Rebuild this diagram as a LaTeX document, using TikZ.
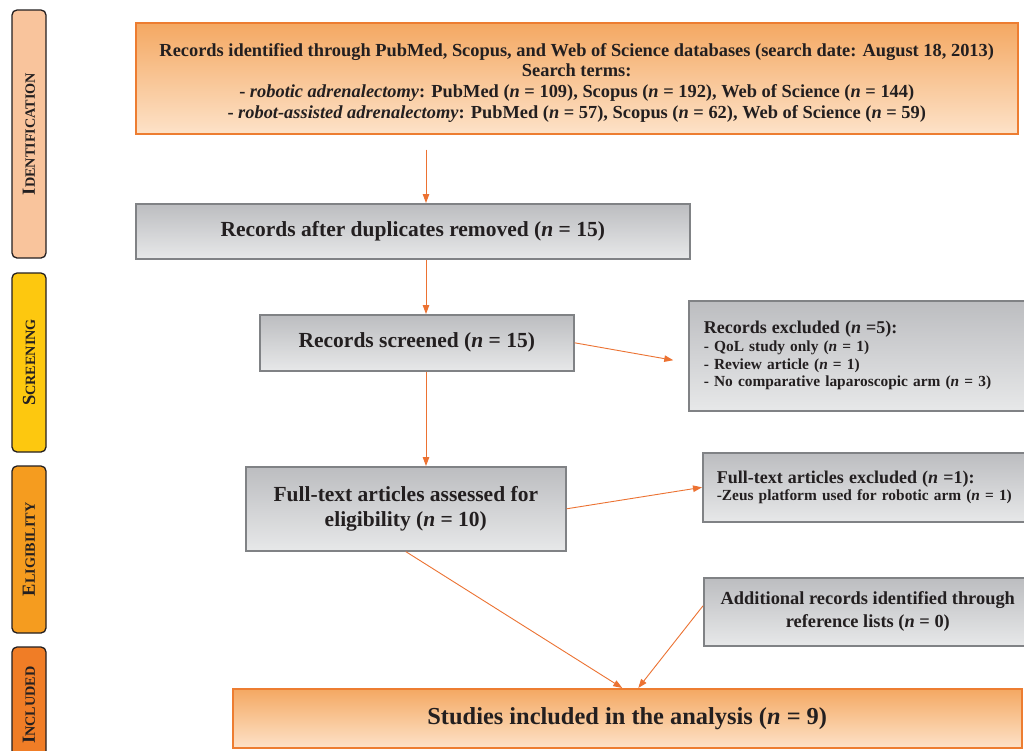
\documentclass[tikz,border=0pt]{standalone}
\usepackage{fontspec}
\setmainfont{Liberation Serif}
\usetikzlibrary{arrows.meta}
\definecolor{orgtop}{HTML}{F4A862}
\definecolor{orgbot}{HTML}{FDE2C8}
\definecolor{orgline}{HTML}{ED7D31}
\definecolor{graytop}{HTML}{BCBDC0}
\definecolor{graybot}{HTML}{E7E8E9}
\definecolor{boxgray}{HTML}{808285}
\definecolor{arrorg}{HTML}{EC7232}
\definecolor{idc}{HTML}{F9C49C}
\definecolor{scrc}{HTML}{FDC80F}
\definecolor{elc}{HTML}{F59C1F}
\definecolor{inc}{HTML}{F07D26}
\definecolor{phaseline}{HTML}{231F20}
\definecolor{txt}{HTML}{231F20}
\newcommand\phasetxt[2]{{\fontsize{18.5}{18.5}\selectfont #1}{\fontsize{14.2}{14.2}\selectfont #2}}
\begin{document}
\begin{tikzpicture}[x=1pt,y=-1pt,
  graybox/.style={draw=boxgray, line width=1.6pt, top color=graytop, bottom color=graybot,
    inner sep=0pt, anchor=north west, align=center, text=txt,
    font=\bfseries\fontsize{21.5}{25}\selectfont},
  orgbox/.style={draw=orgline, line width=1.5pt, top color=orgtop, bottom color=orgbot,
    inner sep=0pt, anchor=north west, align=center, text=txt},
  phase/.style={draw=phaseline, line width=1.3pt, rounded corners=5pt, rotate=90,
    minimum height=34pt, inner sep=0pt, text=txt, font=\bfseries},
  arr/.style={draw=arrorg, line width=0.9pt, -{Triangle[length=9pt,width=6.5pt]}}
]
\useasboundingbox (0,0) rectangle (1024,750);
\clip (0,0) rectangle (1024,750);
\fill[white] (0,0) rectangle (1024,750);

% phase labels
\node[phase, fill=idc, minimum width=248pt] (pid) at (29,134) {\phasetxt{I}{DENTIFICATION}};
\node[phase, fill=scrc, minimum width=179pt] (pscr) at (29,362.5) {\phasetxt{S}{CREENING}};
\node[phase, fill=elc, minimum width=167pt] (pel) at (29,549.5) {\phasetxt{E}{LIGIBILITY}};
\node[phase, fill=inc, minimum width=116pt] (pinc) at (29,705) {\phasetxt{I}{NCLUDED}};

% boxes
\node[orgbox, minimum width=882pt, minimum height=111pt,
  font=\bfseries\fontsize{18.4}{20.7}\selectfont] (top) at (135,22)
  {\rule{0pt}{22pt}Records identified through PubMed, Scopus, and Web of Science databases (search date: August 18, 2013)\\
   Search terms:\\
   - \textit{robotic adrenalectomy}: PubMed (\textit{n} = 109), Scopus (\textit{n} = 192), Web of Science (\textit{n} = 144)\\
   - \textit{robot-assisted adrenalectomy}: PubMed (\textit{n} = 57), Scopus (\textit{n} = 62), Web of Science (\textit{n} = 59)};

\node[graybox, minimum width=554pt, minimum height=55pt] (dup) at (135,203)
  {Records after duplicates removed (\textit{n} = 15)};
\node[graybox, minimum width=314pt, minimum height=56pt] (scr) at (259,314)
  {Records screened (\textit{n} = 15)};
\node[graybox, minimum width=320pt, minimum height=84pt] (ft) at (245,466)
  {Full-text articles assessed for\\ eligibility (\textit{n} = 10)};

\node[graybox, minimum width=360pt, minimum height=110pt, text width=330pt,
  inner xsep=15pt, align=left, font=\bfseries\fontsize{15.4}{17.7}\selectfont] (excl) at (688,300)
  {{\fontsize{18}{18}\selectfont Records excluded (\textit{n} =5):}\\
   - QoL study only (\textit{n} = 1)\\
   - Review article (\textit{n} = 1)\\
   - No comparative laparoscopic arm (\textit{n} = 3)};

\node[graybox, minimum width=360pt, minimum height=69pt, text width=332pt,
  inner xsep=14pt, align=left, font=\bfseries\fontsize{15.4}{17.5}\selectfont] (ftex) at (702,452)
  {{\fontsize{18}{18}\selectfont Full-text articles excluded (\textit{n} =1):}\\
   -Zeus platform used for robotic arm (\textit{n} = 1)};

\node[graybox, minimum width=328pt, minimum height=68pt,
  font=\bfseries\fontsize{18.4}{23}\selectfont] (add) at (703,577)
  {Additional records identified through\\ reference lists (\textit{n} = 0)};

\node[orgbox, minimum width=789pt, minimum height=59pt,
  font=\bfseries\fontsize{24.4}{28}\selectfont] (stud) at (232,688)
  {Studies included in the analysis (\textit{n} = 9)};

% connectors
\coordinate (ax) at (426,0);
\draw[arr, shorten <=15pt] (top.south -| ax) -- (dup.north -| ax);
\draw[arr] (dup.south -| ax) -- (scr.north -| ax);
\draw[arr] (scr.south -| ax) -- (ft.north -| ax);
\draw[arr, shorten >=15pt] (scr.east) -- ([yshift=-7pt]excl.west);
\draw[arr] (ft.east) -- (ftex.west);
\draw[arr] (ft.south) -- ([xshift=-5pt]stud.north);
\draw[arr] ([yshift=6pt]add.west) -- ([xshift=11pt]stud.north);
\end{tikzpicture}
\end{document}
